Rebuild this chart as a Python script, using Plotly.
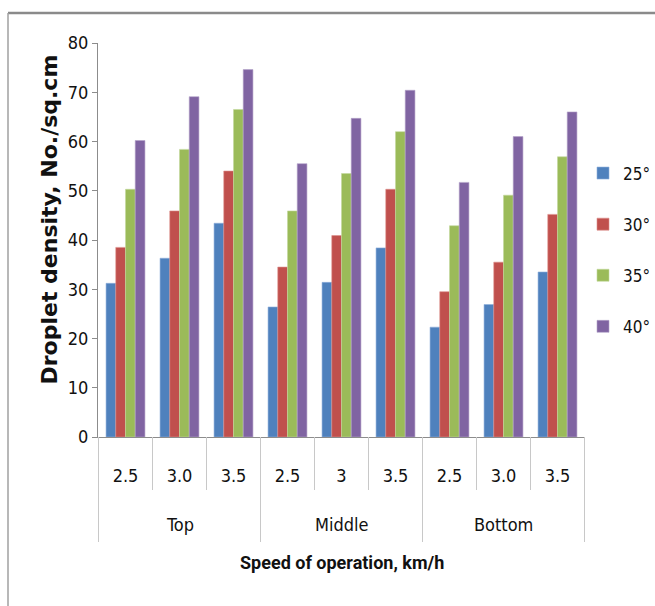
import plotly.graph_objects as go

# Nozzle position groups and speed of operation (km/h) within each group
positions = ["Top", "Middle", "Bottom"]
speeds = ["2.5", "3.0", "3.5", "2.5", "3", "3.5", "2.5", "3.0", "3.5"]
categories = ["Top 2.5", "Top 3.0", "Top 3.5",
              "Middle 2.5", "Middle 3", "Middle 3.5",
              "Bottom 2.5", "Bottom 3.0", "Bottom 3.5"]

# Droplet density (No./sq.cm) for each spray angle
angle_25 = [31.2, 36.3, 43.4, 26.4, 31.4, 38.4, 22.3, 26.9, 33.5]
angle_30 = [38.5, 45.9, 54.0, 34.5, 40.9, 50.3, 29.5, 35.5, 45.2]
angle_35 = [50.3, 58.4, 66.5, 45.9, 53.5, 62.0, 42.9, 49.1, 56.9]
angle_40 = [60.2, 69.1, 74.6, 55.5, 64.7, 70.4, 51.7, 61.0, 66.0]

series_names = ["25°", "30°", "35°", "40°"]
series_values = [angle_25, angle_30, angle_35, angle_40]
colors = ["#4F81BD", "#C0504D", "#9BBB59", "#8064A2"]
edge_colors = ["#8EAEDB", "#DB8E8C", "#C3D99E", "#B3A2C9"]

condensed = "DejaVu Sans Condensed, Roboto, sans-serif"
title_font = "Roboto, sans-serif"

fig = go.Figure()
for name, vals, col, edge in zip(series_names, series_values, colors, edge_colors):
    fig.add_trace(go.Bar(
        x=categories,
        y=vals,
        name=name,
        legendgroup=name,
        marker=dict(color=col, line=dict(color=edge, width=0.6)),
    ))

W, H = 655, 606
ml, mr, mt, mb = 98, 70, 43, 169
pw, ph = W - ml - mr, H - mt - mb


def px_below_axis(px):
    """Paper y coordinate for a point px pixels below the x axis."""
    return -px / ph


fig.update_layout(
    width=W,
    height=H,
    margin=dict(l=ml, r=mr, t=mt, b=mb, autoexpand=False),
    paper_bgcolor="white",
    plot_bgcolor="white",
    barmode="group",
    bargap=0.28,
    bargroupgap=0.0,
    showlegend=True,
    legend=dict(
        x=(583 - ml) / pw, y=(437 - 250) / ph, xanchor="left", yanchor="middle",
        font=dict(family=condensed, size=17, color="#111111"),
        traceorder="grouped",
        tracegroupgap=26,
        itemwidth=30,
        bgcolor="rgba(0,0,0,0)",
    ),
    font=dict(family=condensed, size=18, color="#111111"),
)

fig.update_yaxes(
    range=[0, 80],
    dtick=10,
    showgrid=False,
    zeroline=False,
    showline=True,
    linecolor="#8C8C8C",
    linewidth=1,
    ticks="outside",
    ticklen=5,
    tickcolor="#8C8C8C",
    tickfont=dict(family=condensed, size=18, color="#111111"),
)

fig.update_xaxes(
    type="category",
    categoryorder="array",
    categoryarray=categories,
    tickvals=categories,
    ticktext=speeds,
    showgrid=False,
    showline=True,
    linecolor="#8C8C8C",
    linewidth=1,
    ticks="",
    ticklabelstandoff=22,
    tickfont=dict(family=condensed, size=18, color="#111111"),
)

# Category dividers below the axis: short ones between speeds,
# long ones at the edges of each position group
n_cat = len(categories)
per_group = n_cat // len(positions)
for i in range(n_cat + 1):
    long_line = (i % per_group == 0)
    fig.add_shape(type="line", xref="x", yref="paper",
                  x0=i - 0.5, x1=i - 0.5,
                  y0=0, y1=px_below_axis(105 if long_line else 53),
                  line=dict(color="#C8C8C8", width=1))

# Position group labels, centred under their three speeds
for g, pos in enumerate(positions):
    fig.add_annotation(text=pos, xref="x", yref="paper",
                       x=g * per_group + (per_group - 1) / 2,
                       y=px_below_axis(87), yanchor="middle",
                       showarrow=False,
                       font=dict(family=condensed, size=18, color="#111111"))

# Axis titles
fig.add_annotation(
    text="<b>Droplet density, No./sq.cm</b>",
    xref="paper", yref="paper",
    x=-(ml - 35) / pw, y=(437 - 220) / ph,
    textangle=-90, showarrow=False,
    font=dict(family="DejaVu Sans", size=22, color="#111111"),
)
fig.add_annotation(
    text="<b>Speed of operation, km/h</b>",
    xref="paper", yref="paper",
    x=(342 - ml) / pw, y=px_below_axis(562 - 437), yanchor="middle",
    showarrow=False,
    font=dict(family=title_font, size=18, color="#111111"),
)

# Chart frame (top and left edges)
fx0 = -(ml - 8) / pw
fy1 = 1 + (mt - 13) / ph
fy0 = -mb / ph
fx1 = 1 + mr / pw
fig.add_shape(type="line", xref="paper", yref="paper",
              x0=fx0, x1=fx1, y0=fy1, y1=fy1,
              line=dict(color="#8A8A8A", width=2.5))
fig.add_shape(type="line", xref="paper", yref="paper",
              x0=fx0, x1=fx0, y0=fy0, y1=fy1,
              line=dict(color="#A0A0A0", width=1.5))

fig.write_html("out.html")
